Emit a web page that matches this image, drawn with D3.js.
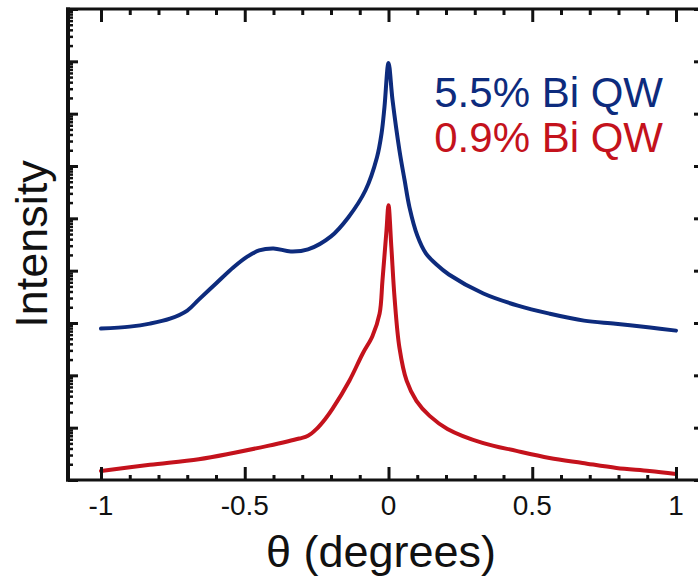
<!DOCTYPE html>
<html>
<head>
<meta charset="utf-8">
<script src="https://cdn.jsdelivr.net/npm/d3@7"></script>
<style>
  html, body { margin: 0; padding: 0; background: #fff; }
  svg { display: block; }
  text { font-family: "Liberation Sans", Arial, Helvetica, sans-serif; }
</style>
</head>
<body>
<svg id="chart" width="698" height="578"></svg>
<script>
// Rocking-curve scans (log intensity vs. theta) for two Bi-containing quantum wells
const thetaHigh = [-1.0, -0.90, -0.83, -0.76, -0.70, -0.66, -0.60, -0.54, -0.49, -0.45, -0.40, -0.34, -0.28, -0.20, -0.14, -0.08, -0.04, -0.024, -0.014, 0, 0.014, 0.038, 0.056, 0.073, 0.10, 0.13, 0.167, 0.21, 0.33, 0.45, 0.56, 0.68, 0.79, 0.91, 1.0];
const intensityHigh = [781, 853, 974, 1210, 1730, 2800, 5690, 11500, 18700, 24400, 26600, 23300, 25500, 45200, 104000, 344000, 1.47e6, 4.25e6, 1.34e7, 9.3e7, 1.82e7, 2.0e6, 5.35e5, 1.62e5, 47200, 21400, 13100, 8450, 3660, 2150, 1510, 1110, 970, 820, 715];

const thetaLow = [-1.0, -0.83, -0.66, -0.54, -0.42, -0.31, -0.28, -0.25, -0.22, -0.195, -0.136, -0.090, -0.056, -0.031, -0.021, -0.007, 0, 0.010, 0.021, 0.038, 0.063, 0.097, 0.143, 0.205, 0.327, 0.445, 0.560, 0.675, 0.793, 0.908, 1.0];
const intensityLow = [1.49, 1.95, 2.5, 3.29, 4.48, 6.2, 7.0, 9.5, 14.7, 22.9, 79, 259, 560, 1510, 6490, 58900, 177000, 27800, 3070, 338, 78.9, 32.6, 16.8, 9.48, 5.12, 3.60, 2.64, 2.12, 1.70, 1.49, 1.30];

const seriesNames = ["5.5% Bi QW", "0.9% Bi QW"];
const seriesColors = ["#0d2b7d", "#c4121c"];

const xTickValues = [-1, -0.5, 0, 0.5, 1];
const xTickLabels = ["-1", "-0.5", "0", "0.5", "1"];
const xLabel = "\u03b8 (degrees)";
const yLabel = "Intensity";

const svg = d3.select("#chart");
const plotLeft = 68, plotRight = 701, plotTop = 9, plotBottom = 480;

const x = d3.scaleLinear().domain([-1, 1]).range([101, 676]);
const y = d3.scaleLog().domain([1, 1e9]).range([plotBottom, plotTop]);

// curves
const line = d3.line()
  .x(d => x(d[0]))
  .y(d => y(d[1]))
  .curve(d3.curveCatmullRom.alpha(0.5));

const series = [
  d3.zip(thetaHigh, intensityHigh),
  d3.zip(thetaLow, intensityLow)
];

svg.append("defs").append("clipPath").attr("id", "plotclip")
  .append("rect").attr("x", plotLeft).attr("y", plotTop)
  .attr("width", plotRight - plotLeft).attr("height", plotBottom - plotTop);

svg.append("g").attr("clip-path", "url(#plotclip)")
  .selectAll("path").data(series).join("path")
  .attr("d", line)
  .attr("fill", "none")
  .attr("stroke", (d, i) => seriesColors[i])
  .attr("stroke-width", 4)
  .attr("stroke-linejoin", "round")
  .attr("stroke-linecap", "round");

// inward tick marks
const minorX = d3.range(-10, 11).map(k => k / 10).filter(v => !xTickValues.some(t => Math.abs(t - v) < 1e-9));
const decades = d3.range(0, 10).map(k => Math.pow(10, k));
const minorY = [];
decades.slice(0, -1).forEach(d => { for (let m = 2; m <= 9; m++) minorY.push(d * m); });

const bottomAxis = d3.axisBottom(x).tickValues(xTickValues).tickSize(-13).tickFormat("");
const bottomMinor = d3.axisBottom(x).tickValues(minorX).tickSize(-5).tickFormat("");
const topAxis = d3.axisTop(x).tickValues(xTickValues).tickSize(-13).tickFormat("");
const topMinor = d3.axisTop(x).tickValues(minorX).tickSize(-6).tickFormat("");
const leftAxis = d3.axisLeft(y).tickValues(decades).tickSize(-10).tickFormat("");
const leftMinor = d3.axisLeft(y).tickValues(minorY).tickSize(-5).tickFormat("");
const rightAxis = d3.axisRight(y).tickValues(decades).tickSize(-7).tickFormat("");
const rightMinor = d3.axisRight(y).tickValues(minorY).tickSize(-3).tickFormat("");

function styleAxis(g, w) {
  g.select(".domain").remove();
  g.selectAll(".tick line").attr("stroke", "#111").attr("stroke-width", w);
}

svg.append("g").attr("transform", `translate(0,${plotBottom})`).call(bottomAxis).call(g => styleAxis(g, 3));
svg.append("g").attr("transform", `translate(0,${plotBottom})`).call(bottomMinor).call(g => styleAxis(g, 3));
svg.append("g").attr("transform", `translate(0,${plotTop})`).call(topAxis).call(g => styleAxis(g, 3));
svg.append("g").attr("transform", `translate(0,${plotTop})`).call(topMinor).call(g => styleAxis(g, 3));
svg.append("g").attr("transform", `translate(${plotLeft},0)`).call(leftAxis).call(g => styleAxis(g, 3));
svg.append("g").attr("transform", `translate(${plotLeft},0)`).call(leftMinor).call(g => styleAxis(g, 2.5));
svg.append("g").attr("transform", `translate(${plotRight},0)`).call(rightAxis).call(g => styleAxis(g, 3));
svg.append("g").attr("transform", `translate(${plotRight},0)`).call(rightMinor).call(g => styleAxis(g, 2.5));

// frame
svg.append("line").attr("x1", plotLeft - 2).attr("x2", plotRight + 2).attr("y1", plotTop).attr("y2", plotTop)
  .attr("stroke", "#111").attr("stroke-width", 3);
svg.append("line").attr("x1", plotLeft - 2).attr("x2", plotRight + 2).attr("y1", plotBottom).attr("y2", plotBottom)
  .attr("stroke", "#111").attr("stroke-width", 3);
svg.append("line").attr("x1", plotLeft).attr("x2", plotLeft).attr("y1", plotTop - 1.5).attr("y2", plotBottom + 1.5)
  .attr("stroke", "#111").attr("stroke-width", 4);
svg.append("line").attr("x1", plotRight).attr("x2", plotRight).attr("y1", plotTop - 1.5).attr("y2", plotBottom + 1.5)
  .attr("stroke", "#111").attr("stroke-width", 3);

// tick labels
svg.append("g").selectAll("text").data(xTickValues).join("text")
  .attr("x", d => x(d))
  .attr("y", 515)
  .attr("text-anchor", "middle")
  .attr("font-size", 28)
  .attr("fill", "#111")
  .text((d, i) => xTickLabels[i]);

// axis titles
svg.append("text")
  .attr("x", 381).attr("y", 567)
  .attr("text-anchor", "middle")
  .attr("font-size", 45)
  .attr("fill", "#111")
  .text(xLabel);

svg.append("text")
  .attr("transform", "translate(47,244) rotate(-90)")
  .attr("text-anchor", "middle")
  .attr("font-size", 45)
  .attr("fill", "#111")
  .text(yLabel);

// legend
svg.append("g").selectAll("text").data(seriesNames).join("text")
  .attr("x", 663)
  .attr("y", (d, i) => 107 + i * 45)
  .attr("text-anchor", "end")
  .attr("font-size", 42)
  .attr("fill", (d, i) => seriesColors[i])
  .text(d => d);
</script>
</body>
</html>
